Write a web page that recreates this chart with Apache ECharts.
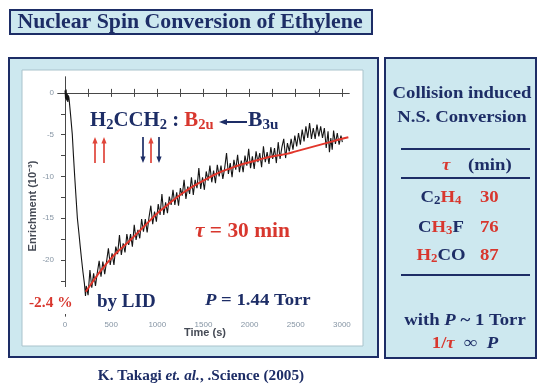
<!DOCTYPE html>
<html>
<head>
<meta charset="utf-8">
<script src="https://cdn.jsdelivr.net/npm/echarts@6/dist/echarts.min.js"></script>
<style>
  html, body { margin: 0; padding: 0; background: #ffffff; }
  #chart { width: 539px; height: 385px; }
</style>
</head>
<body>
<div id="chart"></div>
<script>
// Measured enrichment trace: [time (s), enrichment (10^-3)]
const enrichmentTrace = [
  [0, 0.3], [6, -0.7], [12, 0.4], [18, -0.9], [24, -0.1], [30, -1.1], [36, -0.3], [43, -0.6],
  [60, -2.6], [79, -5.0], [92, -7.6], [105, -10.0], [120, -12.6], [134, -15.0], [150, -16.7],
  [165, -18.4], [180, -20.0], [195, -21.5], [210, -22.8], [222, -24.3],
  [230, -23.1], [250, -24.2], [270, -21.2], [290, -23.3], [310, -21.6], [330, -23.1], [350, -21.5],
  [370, -20.1], [390, -22.0], [410, -20.2], [430, -21.7], [450, -20.2], [470, -18.6], [490, -20.6],
  [510, -19.2], [530, -20.6], [550, -18.4], [570, -19.3], [590, -17.0], [610, -19.4], [630, -18.0],
  [650, -19.1], [670, -16.9], [690, -18.2], [710, -16.9], [730, -18.4], [750, -15.8], [770, -17.6],
  [790, -16.4], [810, -17.4], [830, -15.1], [850, -16.6], [870, -15.1], [890, -16.7], [910, -14.9],
  [930, -13.5], [950, -15.7], [970, -14.2], [990, -15.4], [1010, -13.3], [1030, -14.6], [1050, -12.1],
  [1070, -14.6], [1090, -13.1], [1110, -14.4], [1130, -12.4], [1150, -13.4], [1170, -11.6],
  [1190, -13.4], [1210, -11.9], [1230, -13.5], [1250, -11.4], [1270, -12.3], [1290, -10.4],
  [1310, -12.7], [1330, -11.2], [1350, -12.1], [1370, -10.1], [1390, -12.2], [1410, -10.4],
  [1430, -11.4], [1450, -9.0], [1470, -11.5], [1490, -10.1], [1510, -11.6], [1530, -9.4],
  [1550, -10.5], [1570, -8.7], [1590, -10.7], [1610, -9.3], [1630, -10.8], [1650, -8.6],
  [1670, -10.0], [1690, -8.7], [1710, -10.3], [1730, -9.0], [1750, -7.2], [1770, -9.7],
  [1790, -8.4], [1810, -10.1], [1830, -8.0], [1850, -9.2], [1870, -7.4], [1890, -9.5],
  [1910, -8.1], [1930, -9.5], [1950, -7.5], [1970, -8.7], [1990, -6.7], [2010, -9.0],
  [2030, -7.6], [2050, -9.1], [2070, -7.0], [2090, -8.3], [2110, -7.2], [2130, -8.9],
  [2150, -6.4], [2170, -8.3], [2190, -7.1], [2210, -8.5], [2230, -6.5], [2250, -7.9],
  [2270, -6.6], [2290, -8.4], [2310, -5.9], [2330, -7.9], [2350, -6.5], [2370, -5.5],
  [2390, -7.8], [2410, -6.0], [2430, -7.0], [2450, -5.5], [2470, -6.8], [2490, -5.1],
  [2510, -6.4], [2530, -4.8], [2550, -6.2], [2570, -4.4], [2590, -5.8], [2610, -4.0],
  [2630, -5.4], [2650, -3.6], [2670, -5.5], [2690, -4.2], [2710, -5.5], [2730, -3.8],
  [2750, -5.2], [2770, -4.0], [2790, -5.4], [2810, -4.2], [2830, -6.6], [2850, -4.6],
  [2865, -7.1], [2880, -5.4], [2895, -6.8], [2910, -4.5], [2930, -6.1], [2950, -4.8],
  [2970, -6.2], [2990, -5.1], [3005, -5.9]
];

// Single-exponential fit, tau = 30 min
const fitCurve = [
  [225, -23.8], [300, -22.6], [400, -21.1], [500, -19.8], [600, -18.7], [700, -17.7],
  [800, -16.6], [900, -15.5], [1000, -14.4], [1100, -13.5], [1200, -12.6], [1300, -11.8],
  [1400, -11.1], [1500, -10.5], [1600, -9.9], [1700, -9.4], [1800, -9.0], [1900, -8.6],
  [2000, -8.3], [2100, -8.0], [2200, -7.7], [2300, -7.5], [2400, -7.3], [2500, -7.0],
  [2600, -6.7], [2700, -6.4], [2800, -6.1], [2900, -5.8], [3000, -5.5], [3070, -5.3]
];

const timeTicks = [0, 250, 500, 750, 1000, 1250, 1500, 1750, 2000, 2250, 2500, 2750, 3000];
const timeLabels = [0, 500, 1000, 1500, 2000, 2500, 3000];
const enrichTicks = [0, -2.5, -5, -7.5, -10, -12.5, -15, -17.5, -20, -22.5, -25];
const enrichLabels = [0, -5, -10, -15, -20];

// Relaxation times at ~1 Torr (min)
const molecules = ['C2H4', 'CH3F', 'H2CO'];
const tauMinutes = [30, 76, 87];

const NAVY = '#1d2d66';
const RED = '#d8372e';
const PANEL = '#cde8ef';
const SERIF = '"Liberation Serif", "Times New Roman", serif';
const SANS = '"Liberation Sans", Arial, sans-serif';

function tokens(size) {
  const base = { fontFamily: SERIF, fontWeight: 'bold', fontSize: size, lineHeight: size + 2 };
  const subSize = Math.round(size * 0.68);
  const sub = { fontFamily: SERIF, fontWeight: 'bold', fontSize: subSize,
                lineHeight: subSize, verticalAlign: 'bottom' };
  return {
    n: Object.assign({ fill: NAVY }, base),
    r: Object.assign({ fill: RED }, base),
    ni: Object.assign({ fill: NAVY, fontStyle: 'italic' }, base),
    ri: Object.assign({ fill: RED, fontStyle: 'italic' }, base),
    ns: Object.assign({ fill: NAVY }, sub),
    rs: Object.assign({ fill: RED }, sub)
  };
}

// rich text anchored at (x, y), stretched horizontally by sx
function richText(x, y, text, size, align, sx) {
  return {
    type: 'text', z: 100, x: x, y: y, scaleX: sx || 1.07,
    style: { x: 0, y: 0, text: text, rich: tokens(size), align: align || 'left', verticalAlign: 'middle' }
  };
}

const moleculeMarkup = {
  C2H4: '{n|C}{ns|2}{r|H}{rs|4}',
  CH3F: '{n|C}{r|H}{rs|3}{n|F}',
  H2CO: '{r|H}{rs|2}{n|CO}'
};

function arrow(x, yTail, yHead, color) {
  const dir = yHead < yTail ? 1 : -1;
  return [
    { type: 'line', z: 100, shape: { x1: x, y1: yTail, x2: x, y2: yHead + dir * 4 },
      style: { stroke: color, lineWidth: 1.7 } },
    { type: 'polygon', z: 100, shape: { points: [[x - 2.6, yHead + dir * 6.5], [x + 2.6, yHead + dir * 6.5], [x, yHead]] },
      style: { fill: color } }
  ];
}

const graphics = [
  // title box
  { type: 'rect', z: -10, shape: { x: 10, y: 10, width: 362, height: 24 },
    style: { fill: PANEL, stroke: NAVY, lineWidth: 2 } },
  { type: 'text', z: 100, x: 190, y: 22.5, scaleX: 1.09,
    style: { x: 0, y: 0, text: 'Nuclear Spin Conversion of Ethylene',
    fill: NAVY, font: 'bold 20px ' + SERIF, align: 'center', verticalAlign: 'middle' } },
  // plot panel
  { type: 'rect', z: -10, shape: { x: 9, y: 58, width: 369, height: 299 },
    style: { fill: PANEL, stroke: NAVY, lineWidth: 2 } },
  { type: 'rect', z: -9, shape: { x: 22, y: 70, width: 341, height: 276 },
    style: { fill: '#ffffff', stroke: '#a9c3cc', lineWidth: 1 } },
  // right table panel
  { type: 'rect', z: -10, shape: { x: 385, y: 58, width: 151, height: 300 },
    style: { fill: PANEL, stroke: NAVY, lineWidth: 2 } },
  { type: 'line', z: 100, shape: { x1: 401, y1: 149, x2: 530, y2: 149 }, style: { stroke: NAVY, lineWidth: 2 } },
  { type: 'line', z: 100, shape: { x1: 401, y1: 178, x2: 530, y2: 178 }, style: { stroke: NAVY, lineWidth: 2 } },
  { type: 'line', z: 100, shape: { x1: 401, y1: 275, x2: 530, y2: 275 }, style: { stroke: NAVY, lineWidth: 2 } },
  richText(462, 93, '{n|Collision induced}', 17.5, 'center'),
  richText(462, 117, '{n|N.S. Conversion}', 17.5, 'center'),
  richText(442, 165, '{ri|τ}', 17.5, 'left'),
  richText(468, 165, '{n|(min)}', 17.5, 'left'),
  richText(465, 320, '{n|with }{ni|P}{n| ~ 1 Torr}', 17.5, 'center'),
  richText(465, 343, '{r|1/}{ri|τ}{n|  ∞  }{ni|P}', 17.5, 'center'),
  // citation
  richText(201, 376, '{n|K. Takagi }{ni|et. al.}{n|, .Science (2005)}', 14, 'center', 1.09),
  // annotations in the plot
  richText(90, 121, '{n|H}{ns|2}{n|CCH}{ns|2}{n| : }{r|B}{rs|2u}', 20, 'left', 1.04),
  richText(248, 121, '{n|B}{ns|3u}', 20, 'left', 1.08),
  { type: 'line', z: 100, shape: { x1: 225, y1: 122, x2: 247, y2: 122 }, style: { stroke: NAVY, lineWidth: 2 } },
  { type: 'polygon', z: 100, shape: { points: [[219, 122], [227, 119], [227, 125]] }, style: { fill: NAVY } },
  richText(195, 232, '{ri|τ}{r| = 30 min}', 20, 'left', 1.07),
  richText(205, 300, '{ni|P}{n| = 1.44 Torr}', 17.5, 'left', 1.07),
  richText(97, 302, '{n|by LID}', 19, 'left', 1.0),
  richText(29, 303, '{r|-2.4 %}', 14.5, 'left', 1.06),
  { type: 'rect', z: 99, shape: { x: 27, y: 287, width: 48, height: 27 }, style: { fill: '#ffffff' } },
  // axis titles
  { type: 'text', z: 100, x: 33, y: 206, rotation: Math.PI / 2,
    style: { x: 0, y: 0, text: 'Enrichment (10⁻³)', fill: '#454a55', font: 'bold 11px ' + SANS,
             align: 'center', verticalAlign: 'middle' } },
  { type: 'text', z: 100, x: 205, y: 333,
    style: { x: 0, y: 0, text: 'Time (s)', fill: '#454a55', font: 'bold 11px ' + SANS,
             align: 'center', verticalAlign: 'middle' } }
];
graphics.push.apply(graphics, arrow(95, 163, 137, '#e0453a'));
graphics.push.apply(graphics, arrow(104, 163, 137, '#e0453a'));
graphics.push.apply(graphics, arrow(143, 137, 163, NAVY));
graphics.push.apply(graphics, arrow(151, 163, 137, '#e0453a'));
graphics.push.apply(graphics, arrow(159, 137, 163, NAVY));

// table rows
const rowY = [197, 227, 255];
molecules.forEach(function (m, i) {
  graphics.push(richText(441, rowY[i], moleculeMarkup[m], 17.5, 'center'));
  graphics.push(richText(480, rowY[i], '{r|' + tauMinutes[i] + '}', 17.5, 'left'));
});

const axisColor = '#474747';
const plainNumber = function (v) { return String(v); };
const tickLabel = { color: '#8695a4', fontSize: 8, fontFamily: SANS, formatter: plainNumber };

const option = {
  animation: false,
  backgroundColor: '#ffffff',
  grid: { left: 58, right: 190, top: 77, bottom: 69 },
  xAxis: [
    { type: 'value', position: 'bottom', min: -76, max: 3077,
      axisLine: { lineStyle: { color: axisColor, width: 1.2 } },
      axisTick: { inside: true, length: 4, customValues: timeTicks, lineStyle: { color: axisColor } },
      axisLabel: Object.assign({ customValues: timeLabels, margin: 5 }, tickLabel),
      splitLine: { show: false } },
    { type: 'value', position: 'top', min: -76, max: 3077,
      axisLine: { lineStyle: { color: axisColor, width: 1 } },
      axisTick: { inside: true, length: 4, customValues: timeTicks, lineStyle: { color: axisColor } },
      axisLabel: { show: false }, splitLine: { show: false } }
  ],
  yAxis: [
    { type: 'value', position: 'left', min: -26.7, max: 1.9,
      axisLine: { show: true, lineStyle: { color: axisColor, width: 1 } },
      axisTick: { show: true, inside: false, length: 3, customValues: enrichTicks, lineStyle: { color: axisColor } },
      axisLabel: Object.assign({ customValues: enrichLabels, margin: 4 }, tickLabel),
      splitLine: { show: false } },
    { type: 'value', position: 'right', min: -26.7, max: 1.9,
      axisLine: { show: true, lineStyle: { color: axisColor, width: 1 } },
      axisTick: { show: true, inside: true, length: 4, customValues: enrichTicks, lineStyle: { color: axisColor } },
      axisLabel: { show: false }, splitLine: { show: false } }
  ],
  series: [
    { type: 'line', name: 'trace', data: enrichmentTrace, xAxisIndex: 0, yAxisIndex: 0,
      showSymbol: false, lineStyle: { color: '#151515', width: 1.1 }, z: 2 },
    { type: 'line', name: 'fit', data: fitCurve, xAxisIndex: 0, yAxisIndex: 0, smooth: true,
      showSymbol: false, lineStyle: { color: '#e2362b', width: 2 }, z: 3 }
  ],
  graphic: { elements: graphics }
};

const chart = echarts.init(document.getElementById('chart'), null, { renderer: 'canvas' });
chart.setOption(option);
</script>
</body>
</html>
